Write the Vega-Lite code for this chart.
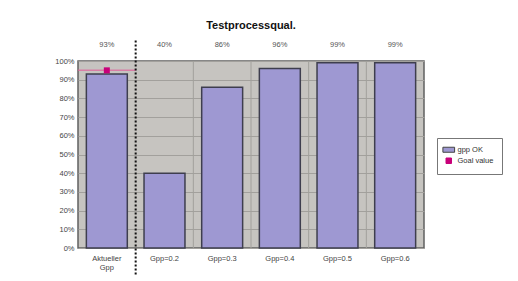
{
  "$schema": "https://vega.github.io/schema/vega-lite/v6.json",
  "width": 346,
  "height": 187,
  "autosize": "none",
  "padding": {"left": 78, "top": 61, "right": 94, "bottom": 33},
  "background": "white",
  "config": {
    "font": "Liberation Sans",
    "view": {"fill": "#c6c4c0", "stroke": "#606060", "strokeWidth": 1.5},
    "title": {"fontSize": 11, "fontWeight": "bold", "color": "#111", "offset": 8}
  },
  "title": {"text": "Testprocessqual.", "anchor": "middle"},
  "resolve": {"axis": {"x": "independent", "y": "independent"}},
  "datasets": {
    "bars": [
      {"cat": "Aktueller Gpp", "ok": 93, "label": "93%", "series": "gpp OK"},
      {"cat": "Gpp=0.2", "ok": 40, "label": "40%", "series": "gpp OK"},
      {"cat": "Gpp=0.3", "ok": 86, "label": "86%", "series": "gpp OK"},
      {"cat": "Gpp=0.4", "ok": 96, "label": "96%", "series": "gpp OK"},
      {"cat": "Gpp=0.5", "ok": 99, "label": "99%", "series": "gpp OK"},
      {"cat": "Gpp=0.6", "ok": 99, "label": "99%", "series": "gpp OK"}
    ],
    "grid": [
      {"cat": "Gpp=0.3"},
      {"cat": "Gpp=0.4"},
      {"cat": "Gpp=0.5"},
      {"cat": "Gpp=0.6"}
    ],
    "goal": [
      {"cat": "Aktueller Gpp", "goal": 95, "series": "Goal value"}
    ],
    "divider": [
      {"cat": "Gpp=0.2", "top": 111, "bottom": -14.5}
    ]
  },
  "layer": [
    {
      "data": {"name": "grid"},
      "mark": {"type": "rule", "color": "#a2a09c", "strokeWidth": 1},
      "encoding": {
        "x": {"field": "cat", "type": "nominal", "bandPosition": -0.2042, "axis": null}
      }
    },
    {
      "data": {"name": "bars"},
      "mark": {"type": "bar", "stroke": "#3e3e4e", "strokeWidth": 1.5},
      "encoding": {
        "x": {
          "field": "cat", "type": "nominal", "sort": null,
          "scale": {"paddingInner": 0.29, "paddingOuter": 0.145},
          "axis": {
            "title": null, "labelAngle": 0, "domain": false, "ticks": false,
            "labelFontSize": 7.5, "labelColor": "#444", "labelPadding": 6,
            "labelExpr": "datum.value == 'Aktueller Gpp' ? ['Aktueller', 'Gpp'] : datum.value",
            "labelLineHeight": 9
          }
        },
        "y": {
          "field": "ok", "type": "quantitative",
          "scale": {"domain": [0, 100], "nice": false},
          "axis": {
            "title": null, "values": [0,10,20,30,40,50,60,70,80,90,100],
            "labelExpr": "datum.value + '%'", "labelFontSize": 7.5, "labelColor": "#444",
            "domain": false, "ticks": false, "labelPadding": 4, "labelOverlap": false,
            "grid": true, "gridColor": "#a2a09c", "gridWidth": 1
          }
        },
        "color": {
          "field": "series", "type": "nominal",
          "scale": {"domain": ["gpp OK", "Goal value"], "range": ["#9e98d2", "#c8007a"]},
          "legend": {
            "title": null, "orient": "none", "legendX": 359, "legendY": 77,
            "strokeColor": "#777", "fillColor": "white", "padding": 8,
            "labelFontSize": 7.5, "labelColor": "#333", "symbolStrokeColor": "#555",
            "symbolStrokeWidth": 1, "symbolSize": 70, "rowPadding": 1, "labelOffset": 5,
            "labelLimit": 200,
            "encode": {
              "symbols": {
                "update": {
                  "shape": {"signal": "datum.value == 'gpp OK' ? 'M-1.4,-0.6H1.4V0.6H-1.4Z' : 'square'"},
                  "size": {"signal": "datum.value == 'gpp OK' ? 70 : 30"},
                  "stroke": {"signal": "datum.value == 'gpp OK' ? '#444' : '#c8007a'"}
                }
              }
            }
          }
        }
      }
    },
    {
      "data": {"name": "goal"},
      "mark": {"type": "tick", "orient": "horizontal", "color": "#e0609a", "size": 57.7, "thickness": 1.5},
      "encoding": {
        "x": {"field": "cat", "type": "nominal", "axis": null},
        "y": {"field": "goal", "type": "quantitative", "axis": null}
      }
    },
    {
      "data": {"name": "goal"},
      "mark": {"type": "square", "filled": true, "size": 36, "opacity": 1},
      "encoding": {
        "x": {"field": "cat", "type": "nominal", "axis": null},
        "y": {"field": "goal", "type": "quantitative", "axis": null},
        "color": {"field": "series", "type": "nominal"}
      }
    },
    {
      "data": {"name": "divider"},
      "mark": {"type": "rule", "color": "#111", "strokeWidth": 2, "strokeDash": [2, 2], "clip": false},
      "encoding": {
        "x": {"field": "cat", "type": "nominal", "bandPosition": -0.2042, "axis": null},
        "y": {"field": "top", "type": "quantitative", "axis": null},
        "y2": {"field": "bottom"}
      }
    },
    {
      "data": {"name": "bars"},
      "mark": {"type": "text", "fontSize": 7.5, "color": "#555", "dy": -16, "baseline": "middle"},
      "encoding": {
        "x": {"field": "cat", "type": "nominal", "axis": null},
        "y": {"datum": 100, "type": "quantitative", "axis": null},
        "text": {"field": "label", "type": "nominal"}
      }
    }
  ]
}
